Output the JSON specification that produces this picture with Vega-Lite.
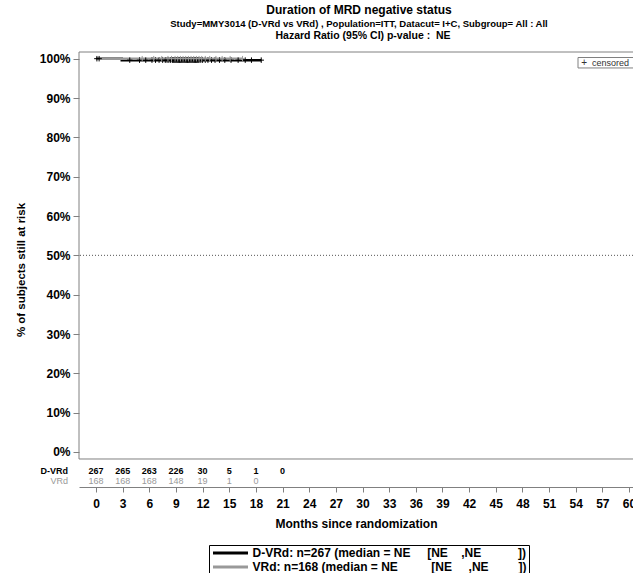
{
  "$schema": "https://vega.github.io/schema/vega-lite/v6.json",
  "width": 554,
  "height": 435,
  "autosize": {"type": "none"},
  "padding": {"left": 79, "top": 52, "right": 0, "bottom": 86},
  "background": "white",
  "config": {
    "view": {"stroke": null},
    "font": "Liberation Sans",
    "axis": {"labelOverlap": false, "grid": false, "labelFlush": false},
    "axisX": {
      "labelFont": "Liberation Sans", "labelFontSize": 12, "labelFontWeight": "bold", "labelColor": "black",
      "labelPadding": 6, "tickColor": "#808080", "tickSize": 5, "domainColor": "#808080",
      "titleFont": "Liberation Sans", "titleFontSize": 12, "titleFontWeight": "bold", "titleColor": "black", "titlePadding": 9
    },
    "axisY": {
      "domain": false,
      "labelFont": "Liberation Sans", "labelFontSize": 12, "labelFontWeight": "bold", "labelColor": "black",
      "labelPadding": 3, "tickColor": "#808080", "tickSize": 6,
      "titleFont": "Liberation Sans", "titleFontSize": 11.5, "titleFontWeight": "bold", "titleColor": "black", "titlePadding": 13
    }
  },
  "title": {
    "text": "Duration of MRD negative status",
    "subtitle": "Study=MMY3014 (D-VRd vs VRd) , Population=ITT, Datacut= I+C, Subgroup= All : All",
    "frame": "group",
    "font": "Liberation Sans",
    "fontSize": 12,
    "fontWeight": "bold",
    "color": "black",
    "subtitleFont": "Liberation Sans",
    "subtitleFontSize": 9.5,
    "subtitleFontWeight": "bold",
    "subtitleColor": "black",
    "subtitlePadding": 2,
    "anchor": "middle",
    "dx": 3,
    "offset": 1.5
  },
  "datasets": {
    "curves": [
      {"arm": "D-VRd", "month": 0, "surv": 1},
      {"arm": "D-VRd", "month": 2.9, "surv": 0.9963},
      {"arm": "D-VRd", "month": 18.6, "surv": 0.9963},
      {"arm": "VRd", "month": 0, "surv": 1},
      {"arm": "VRd", "month": 16.5, "surv": 1}
    ],
    "censor": [
      {"arm": "D-VRd", "month": 0.1, "surv": 1},
      {"arm": "D-VRd", "month": 0.35, "surv": 1},
      {"arm": "D-VRd", "month": 3.8, "surv": 0.9963},
      {"arm": "D-VRd", "month": 4.9, "surv": 0.9963},
      {"arm": "D-VRd", "month": 5.6, "surv": 0.9963},
      {"arm": "D-VRd", "month": 6.3, "surv": 0.9963},
      {"arm": "D-VRd", "month": 6.7, "surv": 0.9963},
      {"arm": "D-VRd", "month": 7.1, "surv": 0.9963},
      {"arm": "D-VRd", "month": 7.5, "surv": 0.9963},
      {"arm": "D-VRd", "month": 7.8, "surv": 0.9963},
      {"arm": "D-VRd", "month": 8.0, "surv": 0.9963},
      {"arm": "D-VRd", "month": 8.2, "surv": 0.9963},
      {"arm": "D-VRd", "month": 8.4, "surv": 0.9963},
      {"arm": "D-VRd", "month": 8.6, "surv": 0.9963},
      {"arm": "D-VRd", "month": 8.7, "surv": 0.9963},
      {"arm": "D-VRd", "month": 8.8, "surv": 0.9963},
      {"arm": "D-VRd", "month": 8.9, "surv": 0.9963},
      {"arm": "D-VRd", "month": 9.0, "surv": 0.9963},
      {"arm": "D-VRd", "month": 9.1, "surv": 0.9963},
      {"arm": "D-VRd", "month": 9.2, "surv": 0.9963},
      {"arm": "D-VRd", "month": 9.3, "surv": 0.9963},
      {"arm": "D-VRd", "month": 9.4, "surv": 0.9963},
      {"arm": "D-VRd", "month": 9.5, "surv": 0.9963},
      {"arm": "D-VRd", "month": 9.6, "surv": 0.9963},
      {"arm": "D-VRd", "month": 9.7, "surv": 0.9963},
      {"arm": "D-VRd", "month": 9.8, "surv": 0.9963},
      {"arm": "D-VRd", "month": 9.9, "surv": 0.9963},
      {"arm": "D-VRd", "month": 10.0, "surv": 0.9963},
      {"arm": "D-VRd", "month": 10.1, "surv": 0.9963},
      {"arm": "D-VRd", "month": 10.2, "surv": 0.9963},
      {"arm": "D-VRd", "month": 10.3, "surv": 0.9963},
      {"arm": "D-VRd", "month": 10.4, "surv": 0.9963},
      {"arm": "D-VRd", "month": 10.5, "surv": 0.9963},
      {"arm": "D-VRd", "month": 10.6, "surv": 0.9963},
      {"arm": "D-VRd", "month": 10.7, "surv": 0.9963},
      {"arm": "D-VRd", "month": 10.8, "surv": 0.9963},
      {"arm": "D-VRd", "month": 10.9, "surv": 0.9963},
      {"arm": "D-VRd", "month": 11.0, "surv": 0.9963},
      {"arm": "D-VRd", "month": 11.1, "surv": 0.9963},
      {"arm": "D-VRd", "month": 11.2, "surv": 0.9963},
      {"arm": "D-VRd", "month": 11.3, "surv": 0.9963},
      {"arm": "D-VRd", "month": 11.4, "surv": 0.9963},
      {"arm": "D-VRd", "month": 11.5, "surv": 0.9963},
      {"arm": "D-VRd", "month": 11.6, "surv": 0.9963},
      {"arm": "D-VRd", "month": 11.8, "surv": 0.9963},
      {"arm": "D-VRd", "month": 12.0, "surv": 0.9963},
      {"arm": "D-VRd", "month": 12.3, "surv": 0.9963},
      {"arm": "D-VRd", "month": 12.6, "surv": 0.9963},
      {"arm": "D-VRd", "month": 13.0, "surv": 0.9963},
      {"arm": "D-VRd", "month": 13.4, "surv": 0.9963},
      {"arm": "D-VRd", "month": 13.9, "surv": 0.9963},
      {"arm": "D-VRd", "month": 14.5, "surv": 0.9963},
      {"arm": "D-VRd", "month": 15.2, "surv": 0.9963},
      {"arm": "D-VRd", "month": 16.0, "surv": 0.9963},
      {"arm": "D-VRd", "month": 16.8, "surv": 0.9963},
      {"arm": "D-VRd", "month": 17.5, "surv": 0.9963},
      {"arm": "D-VRd", "month": 18.6, "surv": 0.9963},
      {"arm": "VRd", "month": 5.2, "surv": 1},
      {"arm": "VRd", "month": 6.5, "surv": 1},
      {"arm": "VRd", "month": 7.4, "surv": 1},
      {"arm": "VRd", "month": 8.1, "surv": 1},
      {"arm": "VRd", "month": 8.5, "surv": 1},
      {"arm": "VRd", "month": 8.9, "surv": 1},
      {"arm": "VRd", "month": 9.2, "surv": 1},
      {"arm": "VRd", "month": 9.5, "surv": 1},
      {"arm": "VRd", "month": 9.8, "surv": 1},
      {"arm": "VRd", "month": 10.1, "surv": 1},
      {"arm": "VRd", "month": 10.4, "surv": 1},
      {"arm": "VRd", "month": 10.7, "surv": 1},
      {"arm": "VRd", "month": 11.0, "surv": 1},
      {"arm": "VRd", "month": 11.3, "surv": 1},
      {"arm": "VRd", "month": 11.6, "surv": 1},
      {"arm": "VRd", "month": 11.9, "surv": 1},
      {"arm": "VRd", "month": 12.3, "surv": 1},
      {"arm": "VRd", "month": 12.8, "surv": 1},
      {"arm": "VRd", "month": 13.5, "surv": 1},
      {"arm": "VRd", "month": 14.2, "surv": 1},
      {"arm": "VRd", "month": 15.1, "surv": 1},
      {"arm": "VRd", "month": 16.5, "surv": 1}
    ],
    "risk": [
      {"arm": "D-VRd", "month": 0, "n": 267},
      {"arm": "D-VRd", "month": 3, "n": 265},
      {"arm": "D-VRd", "month": 6, "n": 263},
      {"arm": "D-VRd", "month": 9, "n": 226},
      {"arm": "D-VRd", "month": 12, "n": 30},
      {"arm": "D-VRd", "month": 15, "n": 5},
      {"arm": "D-VRd", "month": 18, "n": 1},
      {"arm": "D-VRd", "month": 21, "n": 0},
      {"arm": "VRd", "month": 0, "n": 168},
      {"arm": "VRd", "month": 3, "n": 168},
      {"arm": "VRd", "month": 6, "n": 168},
      {"arm": "VRd", "month": 9, "n": 148},
      {"arm": "VRd", "month": 12, "n": 19},
      {"arm": "VRd", "month": 15, "n": 1},
      {"arm": "VRd", "month": 18, "n": 0}
    ]
  },
  "layer": [
    {
      "data": {"values": [{}]},
      "mark": {"type": "rule", "color": "#808080", "strokeWidth": 1},
      "encoding": {"y": {"datum": 1.017, "type": "quantitative", "scale": {"domain": [-0.089, 1.017], "nice": false, "zero": false},
        "axis": {"values": [0, 0.1, 0.2, 0.3, 0.4, 0.5, 0.6, 0.7, 0.8, 0.9, 1], "format": ".0%", "title": "% of subjects still at risk"}}}
    },
    {
      "data": {"values": [{}]},
      "mark": {"type": "rule", "color": "#808080", "strokeWidth": 1},
      "encoding": {"y": {"datum": -0.0178, "type": "quantitative", "scale": {"domain": [-0.089, 1.017], "nice": false, "zero": false},
        "axis": {"values": [0, 0.1, 0.2, 0.3, 0.4, 0.5, 0.6, 0.7, 0.8, 0.9, 1], "format": ".0%", "title": "% of subjects still at risk"}}}
    },
    {
      "data": {"values": [{}]},
      "mark": {"type": "rule", "color": "#808080", "strokeWidth": 1},
      "encoding": {
        "x": {"datum": -1.914, "type": "quantitative", "scale": {"domain": [-1.914, 60.45], "nice": false, "zero": false},
          "axis": {"values": [0, 3, 6, 9, 12, 15, 18, 21, 24, 27, 30, 33, 36, 39, 42, 45, 48, 51, 54, 57, 60], "title": "Months since randomization"}},
        "y": {"datum": -0.0178, "type": "quantitative", "scale": {"domain": [-0.089, 1.017], "nice": false, "zero": false},
          "axis": {"values": [0, 0.1, 0.2, 0.3, 0.4, 0.5, 0.6, 0.7, 0.8, 0.9, 1], "format": ".0%", "title": "% of subjects still at risk"}},
        "y2": {"datum": 1.017}
      }
    },
    {
      "data": {"values": [{}]},
      "mark": {"type": "rule", "color": "#555555", "strokeWidth": 1, "strokeDash": [1, 2]},
      "encoding": {"y": {"datum": 0.5, "type": "quantitative", "scale": {"domain": [-0.089, 1.017], "nice": false, "zero": false},
        "axis": {"values": [0, 0.1, 0.2, 0.3, 0.4, 0.5, 0.6, 0.7, 0.8, 0.9, 1], "format": ".0%", "title": "% of subjects still at risk"}}}
    },
    {
      "data": {"name": "curves"},
      "mark": {"type": "line", "interpolate": "step-after", "strokeWidth": 2.5},
      "encoding": {
        "x": {"field": "month", "type": "quantitative", "scale": {"domain": [-1.914, 60.45], "nice": false, "zero": false},
          "axis": {"values": [0, 3, 6, 9, 12, 15, 18, 21, 24, 27, 30, 33, 36, 39, 42, 45, 48, 51, 54, 57, 60], "title": "Months since randomization"}},
        "y": {"field": "surv", "type": "quantitative", "scale": {"domain": [-0.089, 1.017], "nice": false, "zero": false},
          "axis": {"values": [0, 0.1, 0.2, 0.3, 0.4, 0.5, 0.6, 0.7, 0.8, 0.9, 1], "format": ".0%", "title": "% of subjects still at risk"}},
        "color": {
          "field": "arm", "type": "nominal",
          "scale": {"domain": ["D-VRd", "VRd"], "range": ["#000000", "#999999"]},
          "legend": {
            "orient": "none", "legendX": 130, "legendY": 493,
            "title": null, "direction": "vertical",
            "symbolType": "M-5,0H5", "symbolSize": 49, "symbolStrokeWidth": 3, "symbolOffset": 13.5,
            "labelOffset": 16,
            "labelFont": "Liberation Sans", "labelFontSize": 12, "labelFontWeight": "bold", "labelColor": "black", "labelLimit": 0,
            "strokeColor": "black", "fillColor": "white", "padding": 2, "rowPadding": 2,
            "labelExpr": "datum.label == 'D-VRd' ? 'D-VRd: n=267 (median = NE\u00a0\u00a0\u00a0\u00a0\u00a0[NE\u00a0\u00a0\u00a0\u00a0,NE\u00a0\u00a0\u00a0\u00a0\u00a0\u00a0\u00a0\u00a0\u00a0\u00a0\u00a0])\u00a0\u00a0' : 'VRd: n=168 (median = NE\u00a0\u00a0\u00a0\u00a0\u00a0\u00a0\u00a0\u00a0\u00a0\u00a0[NE\u00a0\u00a0\u00a0\u00a0\u00a0,NE\u00a0\u00a0\u00a0\u00a0\u00a0\u00a0\u00a0\u00a0\u00a0])\u00a0\u00a0'"
          }
        }
      }
    },
    {
      "data": {"name": "censor"},
      "mark": {"type": "point", "shape": "M-1,0H1M0,-1V1", "filled": false, "size": 30, "strokeWidth": 1, "opacity": 1},
      "encoding": {
        "x": {"field": "month", "type": "quantitative", "scale": {"domain": [-1.914, 60.45], "nice": false, "zero": false},
          "axis": {"values": [0, 3, 6, 9, 12, 15, 18, 21, 24, 27, 30, 33, 36, 39, 42, 45, 48, 51, 54, 57, 60], "title": "Months since randomization"}},
        "y": {"field": "surv", "type": "quantitative", "scale": {"domain": [-0.089, 1.017], "nice": false, "zero": false},
          "axis": {"values": [0, 0.1, 0.2, 0.3, 0.4, 0.5, 0.6, 0.7, 0.8, 0.9, 1], "format": ".0%", "title": "% of subjects still at risk"}},
        "color": {"field": "arm", "type": "nominal", "scale": {"domain": ["D-VRd", "VRd"], "range": ["#000000", "#999999"]}, "legend": null}
      }
    },
    {
      "data": {"name": "risk"},
      "transform": [{"filter": "datum.arm == 'D-VRd'"}],
      "mark": {"type": "text", "font": "Liberation Sans", "fontSize": 9, "fontWeight": "bold", "color": "black", "baseline": "middle"},
      "encoding": {
        "x": {"field": "month", "type": "quantitative", "scale": {"domain": [-1.914, 60.45], "nice": false, "zero": false},
          "axis": {"values": [0, 3, 6, 9, 12, 15, 18, 21, 24, 27, 30, 33, 36, 39, 42, 45, 48, 51, 54, 57, 60], "title": "Months since randomization"}},
        "y": {"datum": -0.0483, "type": "quantitative", "scale": {"domain": [-0.089, 1.017], "nice": false, "zero": false},
          "axis": {"values": [0, 0.1, 0.2, 0.3, 0.4, 0.5, 0.6, 0.7, 0.8, 0.9, 1], "format": ".0%", "title": "% of subjects still at risk"}},
        "text": {"field": "n", "type": "quantitative"}
      }
    },
    {
      "data": {"name": "risk"},
      "transform": [{"filter": "datum.arm == 'VRd'"}],
      "mark": {"type": "text", "font": "Liberation Sans", "fontSize": 9, "color": "#999999", "baseline": "middle"},
      "encoding": {
        "x": {"field": "month", "type": "quantitative", "scale": {"domain": [-1.914, 60.45], "nice": false, "zero": false},
          "axis": {"values": [0, 3, 6, 9, 12, 15, 18, 21, 24, 27, 30, 33, 36, 39, 42, 45, 48, 51, 54, 57, 60], "title": "Months since randomization"}},
        "y": {"datum": -0.0737, "type": "quantitative", "scale": {"domain": [-0.089, 1.017], "nice": false, "zero": false},
          "axis": {"values": [0, 0.1, 0.2, 0.3, 0.4, 0.5, 0.6, 0.7, 0.8, 0.9, 1], "format": ".0%", "title": "% of subjects still at risk"}},
        "text": {"field": "n", "type": "quantitative"}
      }
    },
    {
      "data": {"values": [{}]},
      "mark": {"type": "text", "font": "Liberation Sans", "fontSize": 9, "fontWeight": "bold", "color": "black", "align": "right", "baseline": "middle", "dx": -11},
      "encoding": {
        "x": {"datum": -1.914, "type": "quantitative", "scale": {"domain": [-1.914, 60.45], "nice": false, "zero": false},
          "axis": {"values": [0, 3, 6, 9, 12, 15, 18, 21, 24, 27, 30, 33, 36, 39, 42, 45, 48, 51, 54, 57, 60], "title": "Months since randomization"}},
        "y": {"datum": -0.0483, "type": "quantitative", "scale": {"domain": [-0.089, 1.017], "nice": false, "zero": false},
          "axis": {"values": [0, 0.1, 0.2, 0.3, 0.4, 0.5, 0.6, 0.7, 0.8, 0.9, 1], "format": ".0%", "title": "% of subjects still at risk"}},
        "text": {"value": "D-VRd"}
      }
    },
    {
      "data": {"values": [{}]},
      "mark": {"type": "text", "font": "Liberation Sans", "fontSize": 9, "color": "#999999", "align": "right", "baseline": "middle", "dx": -11},
      "encoding": {
        "x": {"datum": -1.914, "type": "quantitative", "scale": {"domain": [-1.914, 60.45], "nice": false, "zero": false},
          "axis": {"values": [0, 3, 6, 9, 12, 15, 18, 21, 24, 27, 30, 33, 36, 39, 42, 45, 48, 51, 54, 57, 60], "title": "Months since randomization"}},
        "y": {"datum": -0.0737, "type": "quantitative", "scale": {"domain": [-0.089, 1.017], "nice": false, "zero": false},
          "axis": {"values": [0, 0.1, 0.2, 0.3, 0.4, 0.5, 0.6, 0.7, 0.8, 0.9, 1], "format": ".0%", "title": "% of subjects still at risk"}},
        "text": {"value": "VRd"}
      }
    },
    {
      "data": {"values": [{}]},
      "mark": {"type": "rect", "fill": "white", "stroke": "#808080", "strokeWidth": 1},
      "encoding": {
        "x": {"datum": 54.26, "type": "quantitative", "scale": {"domain": [-1.914, 60.45], "nice": false, "zero": false},
          "axis": {"values": [0, 3, 6, 9, 12, 15, 18, 21, 24, 27, 30, 33, 36, 39, 42, 45, 48, 51, 54, 57, 60], "title": "Months since randomization"}},
        "x2": {"datum": 70},
        "y": {"datum": 1.003, "type": "quantitative", "scale": {"domain": [-0.089, 1.017], "nice": false, "zero": false},
          "axis": {"values": [0, 0.1, 0.2, 0.3, 0.4, 0.5, 0.6, 0.7, 0.8, 0.9, 1], "format": ".0%", "title": "% of subjects still at risk"}},
        "y2": {"datum": 0.9764}
      }
    },
    {
      "data": {"values": [{}]},
      "mark": {"type": "text", "font": "Liberation Sans", "fontSize": 10, "color": "#333333", "align": "center", "baseline": "middle"},
      "encoding": {
        "x": {"datum": 54.94, "type": "quantitative", "scale": {"domain": [-1.914, 60.45], "nice": false, "zero": false},
          "axis": {"values": [0, 3, 6, 9, 12, 15, 18, 21, 24, 27, 30, 33, 36, 39, 42, 45, 48, 51, 54, 57, 60], "title": "Months since randomization"}},
        "y": {"datum": 0.989, "type": "quantitative", "scale": {"domain": [-0.089, 1.017], "nice": false, "zero": false},
          "axis": {"values": [0, 0.1, 0.2, 0.3, 0.4, 0.5, 0.6, 0.7, 0.8, 0.9, 1], "format": ".0%", "title": "% of subjects still at risk"}},
        "text": {"value": "+"}
      }
    },
    {
      "data": {"values": [{}]},
      "mark": {"type": "text", "font": "Liberation Sans", "fontSize": 9, "color": "#333333", "align": "left", "baseline": "middle"},
      "encoding": {
        "x": {"datum": 55.84, "type": "quantitative", "scale": {"domain": [-1.914, 60.45], "nice": false, "zero": false},
          "axis": {"values": [0, 3, 6, 9, 12, 15, 18, 21, 24, 27, 30, 33, 36, 39, 42, 45, 48, 51, 54, 57, 60], "title": "Months since randomization"}},
        "y": {"datum": 0.989, "type": "quantitative", "scale": {"domain": [-0.089, 1.017], "nice": false, "zero": false},
          "axis": {"values": [0, 0.1, 0.2, 0.3, 0.4, 0.5, 0.6, 0.7, 0.8, 0.9, 1], "format": ".0%", "title": "% of subjects still at risk"}},
        "text": {"value": "censored"}
      }
    },
    {
      "data": {"values": [{}]},
      "mark": {"type": "text", "font": "Liberation Sans", "fontSize": 10.5, "fontWeight": "bold", "color": "black", "align": "center", "baseline": "middle"},
      "encoding": {
        "x": {"datum": 30.06, "type": "quantitative", "scale": {"domain": [-1.914, 60.45], "nice": false, "zero": false},
          "axis": {"values": [0, 3, 6, 9, 12, 15, 18, 21, 24, 27, 30, 33, 36, 39, 42, 45, 48, 51, 54, 57, 60], "title": "Months since randomization"}},
        "y": {"datum": 1.058, "type": "quantitative", "scale": {"domain": [-0.089, 1.017], "nice": false, "zero": false},
          "axis": {"values": [0, 0.1, 0.2, 0.3, 0.4, 0.5, 0.6, 0.7, 0.8, 0.9, 1], "format": ".0%", "title": "% of subjects still at risk"}},
        "text": {"value": "Hazard Ratio (95% CI) p-value :\u00a0\u00a0NE"}
      }
    }
  ]
}
